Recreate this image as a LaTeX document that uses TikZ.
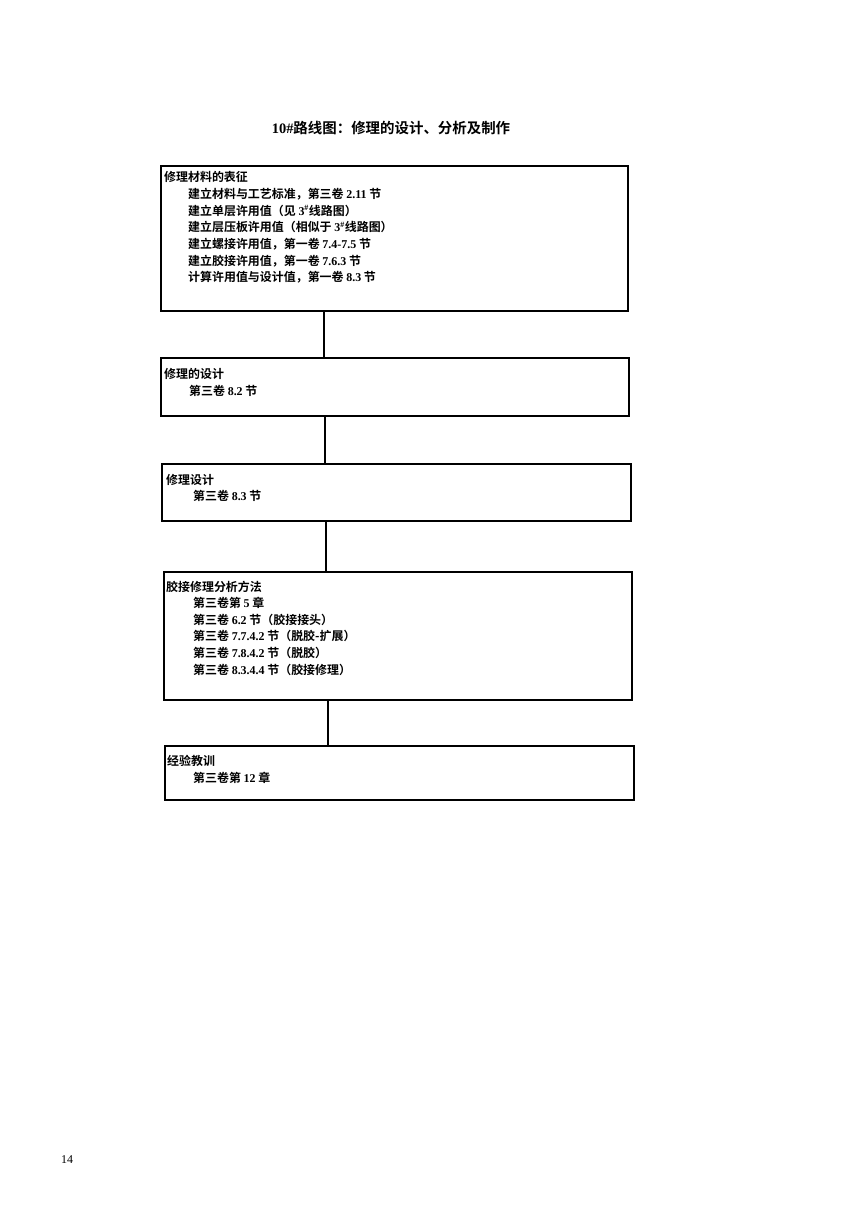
\documentclass[tikz,border=0pt]{standalone}
\usepackage{fontspec}
\setmainfont{Liberation Serif}
\newfontfamily\cjk{Noto Sans CJK SC}[BoldFont={Noto Sans CJK SC Bold}]
\newcommand{\lat}[1]{{\rmfamily\bfseries #1}}
\begin{document}
\begin{tikzpicture}[x=1bp,y=-1bp,
  boxstyle/.style={draw,line width=1.6bp,rectangle,inner sep=0pt,anchor=north west},
  txt/.style={anchor=north west,inner sep=0pt,font=\cjk\bfseries\fontsize{12}{16.7}\selectfont,align=left},
  conn/.style={line width=1.6bp}]
\useasboundingbox (0,0) rectangle (848,1232);
\fill[white] (0,0) rectangle (848,1232);
\node[anchor=center,inner sep=0pt,font=\cjk\bfseries\fontsize{14.5}{16}\selectfont] (title) at (391,128) {\lat{10\#}路线图：修理的设计、分析及制作};
% boxes
\node[boxstyle,minimum width=467bp,minimum height=145bp] (b1) at (160,165) {};
\node[boxstyle,minimum width=468bp,minimum height=58bp] (b2) at (160,357) {};
\node[boxstyle,minimum width=469bp,minimum height=57bp] (b3) at (161,463) {};
\node[boxstyle,minimum width=468bp,minimum height=128bp] (b4) at (163,571) {};
\node[boxstyle,minimum width=469bp,minimum height=54bp] (b5) at (164,745) {};
% texts
\node[txt] (t1) at (164,171) {修理材料的表征};
\node[txt] (t1a) at (188,188) {建立材料与工艺标准，第三卷 \lat{2.11} 节\\
建立单层许用值（见 \lat{3\textsuperscript{\#}}线路图）\\
建立层压板许用值（相似于 \lat{3\textsuperscript{\#}}线路图）\\
建立螺接许用值，第一卷 \lat{7.4-7.5} 节\\
建立胶接许用值，第一卷 \lat{7.6.3} 节\\
计算许用值与设计值，第一卷 \lat{8.3} 节};
\node[txt] (t2) at (164,368) {修理的设计};
\node[txt] (t2a) at (189,385) {第三卷 \lat{8.2} 节};
\node[txt] (t3) at (166,474) {修理设计};
\node[txt] (t3a) at (193,490) {第三卷 \lat{8.3} 节};
\node[txt] (t4) at (166,581) {胶接修理分析方法};
\node[txt] (t4a) at (193,597) {第三卷第 \lat{5} 章\\
第三卷 \lat{6.2} 节（胶接接头）\\
第三卷 \lat{7.7.4.2} 节（脱胶-扩展）\\
第三卷 \lat{7.8.4.2} 节（脱胶）\\
第三卷 \lat{8.3.4.4} 节（胶接修理）};
\node[txt] (t5) at (167,755) {经验教训};
\node[txt] (t5a) at (193,772) {第三卷第 \lat{12} 章};
% connectors
\draw[conn] (b1.south -| 324,0) -- (b2.north -| 324,0);
\draw[conn] (b2.south -| 325,0) -- (b3.north -| 325,0);
\draw[conn] (b3.south -| 326,0) -- (b4.north -| 326,0);
\draw[conn] (b4.south -| 328,0) -- (b5.north -| 328,0);
% page number
\node[anchor=center,inner sep=0pt,font=\fontsize{12}{14}\selectfont] (pg) at (67,1160) {14};
\end{tikzpicture}
\end{document}
